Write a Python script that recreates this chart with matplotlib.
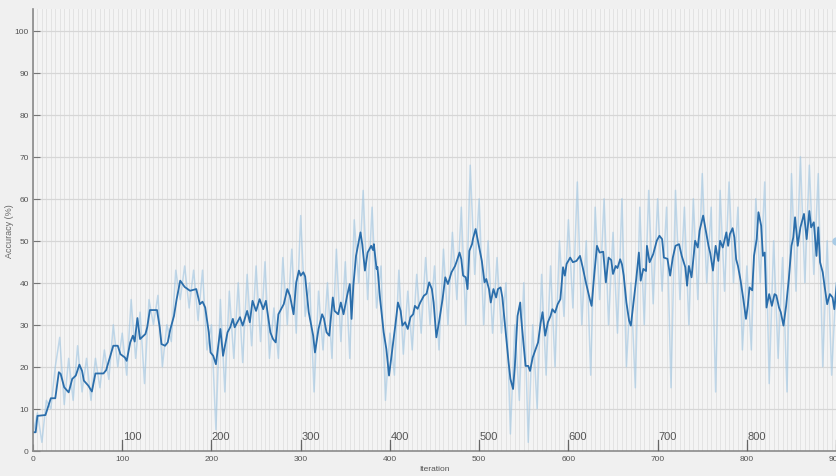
import matplotlib
matplotlib.use("Agg")
import matplotlib.pyplot as plt
import numpy as np

plt.rcParams["font.family"] = ["Liberation Sans", "DejaVu Sans"]

# smoothed training accuracy, read at turning points (iteration, %)
smooth_iter = [
    0, 3, 5, 14, 20, 25, 29, 31, 35, 40, 44, 48, 52, 55, 57, 62, 66, 70, 79, 82,
    90, 95, 98, 103, 105, 109, 112, 114, 117, 120, 126, 128, 131, 139, 142, 144, 148, 151, 154, 158,
    161, 165, 170, 176, 183, 187, 190, 193, 197, 199, 202, 205, 210, 213, 218, 221, 224, 226, 232, 235,
    240, 243, 246, 250, 254, 258, 261, 266, 269, 272, 275, 281, 285, 288, 292, 295, 298, 300, 303, 305,
    309, 314, 316, 320, 324, 326, 329, 332, 336, 338, 342, 345, 348, 352, 355, 357, 359, 362, 367, 369,
    372, 375, 379, 381, 382, 385, 386, 389, 393, 396, 399, 402, 406, 409, 412, 414, 417, 420, 423, 426,
    428, 431, 434, 438, 441, 444, 447, 449, 452, 455, 459, 462, 465, 469, 473, 475, 478, 480, 482, 485,
    487, 489, 492, 493, 496, 499, 503, 506, 508, 511, 513, 516, 519, 521, 524, 526, 529, 533, 535, 538,
    540, 543, 546, 547, 550, 552, 555, 557, 560, 562, 566, 569, 571, 574, 577, 580, 582, 585, 588, 591,
    594, 596, 598, 602, 605, 609, 613, 616, 620, 624, 626, 629, 632, 635, 639, 642, 645, 648, 650, 653,
    655, 658, 660, 662, 665, 668, 670, 673, 676, 679, 681, 684, 687, 688, 691, 695, 699, 702, 705, 707,
    711, 714, 717, 720, 724, 727, 731, 733, 735, 738, 742, 745, 747, 751, 754, 757, 759, 762, 765, 768,
    770, 773, 777, 779, 781, 784, 786, 788, 790, 793, 796, 799, 801, 803, 806, 808, 811, 813, 816, 818,
    820, 822, 825, 828, 831, 833, 836, 838, 841, 844, 847, 850, 852, 854, 857, 860, 864, 867, 870, 872,
    875, 878, 880, 882, 885, 887, 890, 893, 896, 898, 901,
]
smooth_acc = [
    4.4, 4.4, 8.3, 8.5, 12.5, 12.5, 18.7, 18.3, 15.1, 13.9, 17.1, 17.9, 20.5, 19.0, 16.7, 15.5, 14.1, 18.4, 18.4, 19.2,
    25.0, 25.0, 23.0, 22.2, 21.4, 25.8, 27.4, 26.0, 31.6, 26.6, 27.8, 29.4, 33.5, 33.5, 29.4, 25.4, 25.0, 25.8, 29.0, 32.1,
    36.1, 40.5, 39.0, 38.1, 38.5, 34.9, 35.5, 34.1, 28.2, 23.4, 22.6, 20.6, 29.0, 22.6, 28.2, 29.4, 31.4, 29.4, 31.8, 29.8,
    33.3, 30.6, 35.7, 33.3, 36.1, 33.7, 35.7, 28.2, 26.6, 25.8, 32.5, 34.9, 38.5, 36.9, 32.5, 40.1, 42.9, 41.7, 42.5, 41.5,
    33.0, 27.4, 23.4, 29.0, 32.5, 31.5, 28.2, 27.4, 36.5, 33.3, 32.5, 35.3, 32.5, 36.9, 39.7, 31.4, 39.3, 46.4, 52.0, 49.2,
    42.9, 47.2, 48.8, 47.8, 49.2, 43.3, 43.8, 36.1, 28.2, 24.2, 17.9, 23.0, 29.8, 35.3, 33.3, 29.8, 30.6, 29.0, 31.8, 32.5,
    34.5, 33.8, 35.3, 36.9, 37.4, 40.1, 38.5, 35.3, 27.0, 30.6, 36.1, 41.3, 39.7, 42.5, 44.0, 45.2, 47.2, 45.6, 41.7, 41.3,
    38.5, 47.6, 49.2, 50.4, 52.8, 49.6, 45.2, 40.1, 40.9, 38.5, 35.3, 38.5, 36.5, 38.5, 38.9, 36.5, 29.8, 21.0, 17.1, 14.7,
    20.2, 32.1, 35.3, 31.8, 25.0, 20.2, 20.2, 19.0, 22.2, 23.4, 25.8, 30.6, 33.0, 27.4, 30.6, 32.1, 33.7, 32.9, 34.9, 36.1,
    43.7, 41.7, 44.5, 46.0, 44.9, 45.2, 46.4, 43.7, 39.7, 36.1, 34.5, 42.0, 48.8, 47.2, 47.4, 40.1, 46.0, 45.4, 42.1, 44.0,
    43.5, 45.6, 44.4, 41.7, 35.3, 31.0, 29.8, 35.3, 40.9, 47.2, 40.5, 43.3, 42.8, 48.8, 44.9, 46.8, 50.0, 51.2, 50.4, 46.0,
    45.7, 41.7, 46.0, 48.8, 49.2, 46.4, 43.7, 39.3, 44.0, 41.3, 50.0, 48.4, 52.4, 56.0, 52.4, 48.8, 47.0, 42.9, 48.8, 45.2,
    50.0, 48.4, 52.0, 48.8, 51.6, 53.0, 50.8, 45.6, 44.0, 40.5, 36.1, 31.4, 34.5, 38.9, 38.2, 46.4, 50.4, 56.8, 53.6, 46.4,
    47.2, 34.1, 37.3, 34.5, 37.3, 37.0, 34.1, 33.0, 29.8, 34.5, 40.9, 48.8, 50.8, 55.6, 48.8, 53.2, 56.4, 50.4, 57.1, 53.2,
    54.4, 46.4, 53.2, 44.9, 42.5, 39.3, 34.9, 37.3, 36.5, 33.7, 40.1,
]

# raw mini-batch accuracy, every 5 iterations
raw_iter = list(range(0, 901, 5))
raw_acc = [
    4, 9, 2, 12, 10, 20, 27, 11, 22, 12, 25, 14, 22, 12, 22, 15, 24, 17, 30, 20,
    28, 18, 36, 22, 33, 16, 36, 30, 37, 20, 30, 26, 43, 36, 44, 34, 43, 31, 43, 24,
    30, 5, 36, 14, 38, 22, 40, 21, 42, 25, 44, 26, 45, 22, 34, 22, 46, 30, 48, 28,
    56, 32, 40, 14, 38, 24, 40, 22, 48, 26, 45, 22, 55, 40, 62, 36, 58, 34, 44, 12,
    28, 18, 43, 23, 38, 24, 42, 28, 46, 30, 44, 24, 48, 30, 52, 36, 58, 30, 68, 42,
    60, 30, 50, 28, 46, 28, 40, 4, 30, 12, 40, 2, 30, 10, 42, 18, 44, 20, 50, 32,
    55, 34, 64, 30, 50, 18, 58, 36, 60, 30, 52, 28, 60, 20, 40, 15, 58, 30, 62, 35,
    60, 38, 58, 15, 62, 36, 58, 30, 60, 36, 66, 40, 58, 14, 62, 38, 64, 40, 58, 24,
    44, 24, 60, 40, 64, 16, 50, 22, 46, 14, 66, 38, 70, 40, 68, 42, 66, 20, 50, 18,
    40,
]

y_ticks = list(range(0, 101, 10))
x_ticks = list(range(0, 901, 100))
iters_per_epoch = 5

fig = plt.figure(figsize=(8.37, 4.77), dpi=100, facecolor="#f0f0f0")
ax = fig.add_axes([0.0394, 0.053, 0.9606, 0.926])
ax.set_facecolor("#f4f4f4")

# epoch separators and horizontal grid
ax.vlines(np.arange(0, 905, iters_per_epoch), 0, 106, color="#e0e0e0",
          linewidth=0.6, zorder=0)
for y in y_ticks:
    ax.axhline(y, color="#d6d6d6", linewidth=0.9, zorder=0.5)

ax.plot(raw_iter, raw_acc, color="#9ec5e2", alpha=0.6, linewidth=1.1,
        zorder=1)
ax.plot(smooth_iter, smooth_acc, color="#2b6eab", linewidth=1.3, zorder=2)
ax.plot([900], [50], "o", color="#a8cbe6", markersize=5, zorder=2,
        clip_on=False)

# iteration markers drawn inside the plot
for x in x_ticks[1:]:
    ax.plot([x, x], [0, 2.6], color="#666666", linewidth=0.9, zorder=3)
    ax.text(x + 0.5, 2.4, str(x), fontsize=8, color="#555555",
            ha="left", va="bottom", zorder=3)

ax.set_xlim(0, 901)
ax.set_ylim(0, 105.2)
ax.set_xticks(x_ticks)
ax.set_yticks(y_ticks)
ax.tick_params(axis="both", direction="in", length=5, width=0.8,
               colors="#777777", labelsize=6, labelcolor="#555555", pad=3)
for side in ["top", "right"]:
    ax.spines[side].set_visible(False)
for side in ["left", "bottom"]:
    ax.spines[side].set_color("#8a8a8a")
    ax.spines[side].set_linewidth(1.2)

ax.set_xlabel("Iteration", fontsize=6, color="#555555", labelpad=2)
ax.set_ylabel("Accuracy (%)", fontsize=6.5, color="#666666")
ax.yaxis.set_label_coords(-0.024, 0.5)

fig.savefig("out.png", dpi=100, facecolor=fig.get_facecolor())
